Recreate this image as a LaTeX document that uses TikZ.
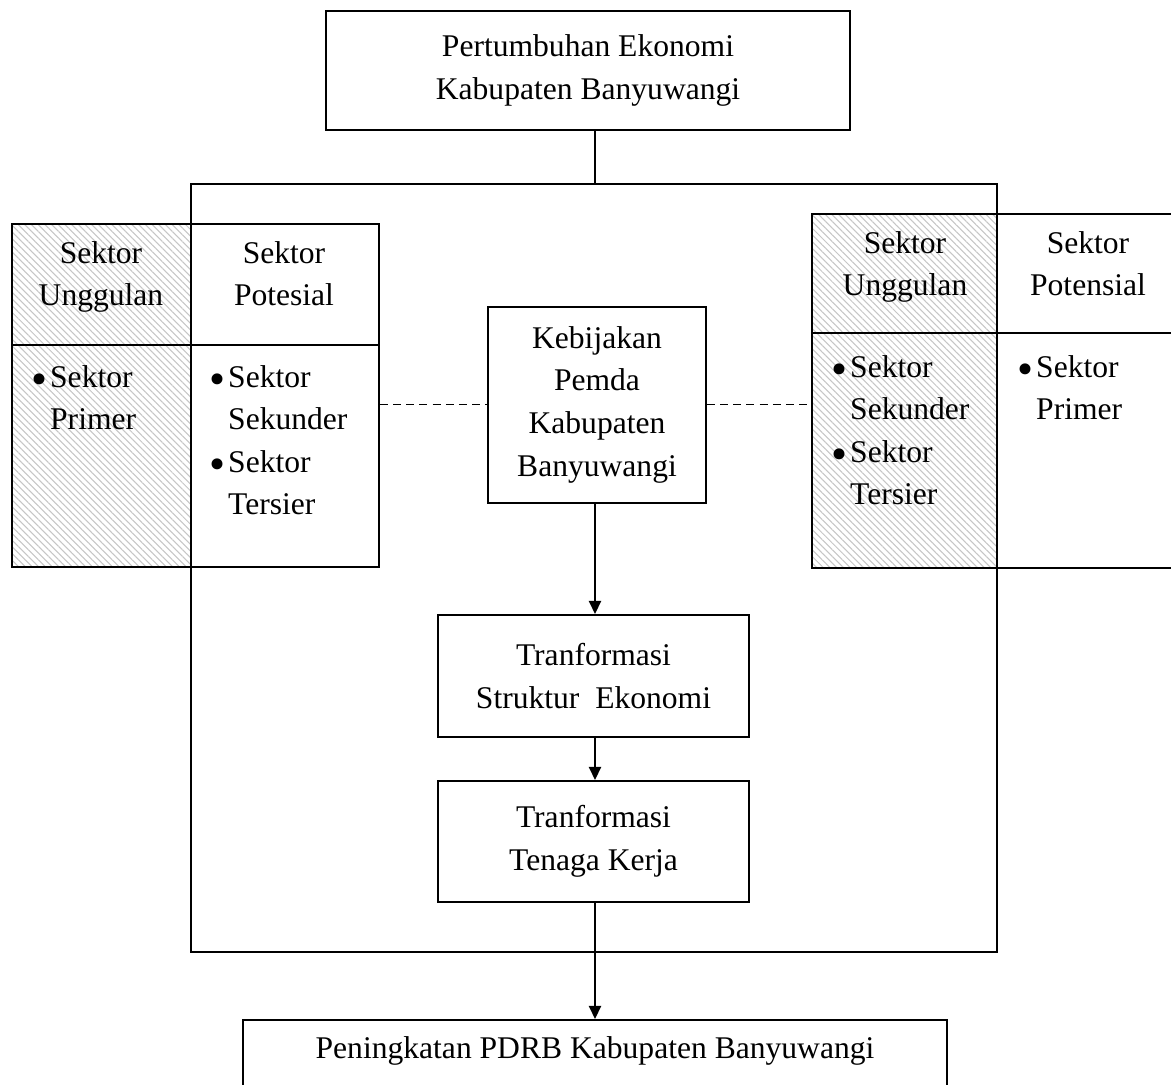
\documentclass[tikz,border=0pt]{standalone}
\usepackage{fontspec}
\setmainfont{Liberation Serif}
\usetikzlibrary{arrows.meta,patterns.meta}
\def\u{0.38pt}
\newcommand\mystk[1]{\begin{tabular}[t]{@{}c@{}}#1\end{tabular}}
\newcommand\myblt[1]{\begin{tabular}[t]{@{}l@{\hspace{1pt}}l@{}}#1\end{tabular}}
\newcommand\mybul{\raisebox{-2.7pt}{\scalebox{1.45}{\textbullet}}}
\begin{document}
\begin{tikzpicture}[x=0.38pt,y=-0.38pt,
  every node/.style={font=\fontsize{12}{16.2}\selectfont},
  box/.style={draw, line width=0.75pt, inner sep=0pt, align=center},
  arr/.style={line width=0.75pt, -{Triangle[length=5pt,width=4.6pt]}},
  ln/.style={line width=0.75pt},
  dsh/.style={line width=0.5pt, dash pattern=on 3pt off 2pt},
  hatch/.style={pattern={Lines[angle=135,distance=1.8pt,line width=0.4pt]}, pattern color=gray!45},
  txt/.style={inner sep=0pt, anchor=base},
  lst/.style={inner sep=0pt, anchor=base west}]
\useasboundingbox (0,0) rectangle (1171,1084);
\fill[white] (0,0) rectangle (1171,1084);
\coordinate (spine) at (595,0);

% hatched columns
\fill[hatch] (11,223) rectangle (190,566);
\fill[hatch] (811,213) rectangle (996,567);

% big frame
\node[box, minimum width=806*\u, minimum height=768*\u, anchor=north west] (F) at (190,183) {};

% left table
\node[box, minimum width=367*\u, minimum height=343*\u, anchor=north west] (LT) at (11,223) {};
\draw[ln] (11,345) -- (378,345);
\node[txt] (lh1) at (101,263) {\mystk{Sektor\\Unggulan}};
\node[txt] (lh2) at (284,263) {\mystk{Sektor\\Potesial}};
\node[lst] (lb1) at (31,387) {\myblt{\mybul & Sektor\\ & Primer}};
\node[lst] (lb2) at (209,387) {\myblt{\mybul & Sektor\\ & Sekunder\\ \mybul & Sektor\\ & Tersier}};

% right table
\node[box, minimum width=400*\u, minimum height=354*\u, anchor=north west] (RT) at (811,213) {};
\draw[ln] (811,333) -- (1211,333);
\node[txt] (rh1) at (905,253) {\mystk{Sektor\\Unggulan}};
\node[txt] (rh2) at (1088,253) {\mystk{Sektor\\Potensial}};
\node[lst] (rb1) at (831,377) {\myblt{\mybul & Sektor\\ & Sekunder\\ \mybul & Sektor\\ & Tersier}};
\node[lst] (rb2) at (1017,377) {\myblt{\mybul & Sektor\\ & Primer}};

% boxes
\node[box, minimum width=524*\u, minimum height=119*\u] (T) at (588,70.5) {Pertumbuhan Ekonomi\\Kabupaten Banyuwangi};
\node[box, minimum width=218*\u, minimum height=196*\u] (K) at (597,404.5) {Kebijakan\\Pemda\\Kabupaten\\Banyuwangi};
\node[box, minimum width=311*\u, minimum height=122*\u] (S) at (593.5,676) {Tranformasi\\Struktur\ \ Ekonomi};
\node[box, minimum width=311*\u, minimum height=121*\u] (W) at (593.5,841.5) {Tranformasi\\Tenaga Kerja};
\node[box, minimum width=704*\u, text height=38*\u, text depth=90*\u, anchor=north] (B) at (595,1019) {Peningkatan PDRB Kabupaten Banyuwangi};

% connectors
\draw[ln] (T.south -| spine) -- (F.north -| spine);
\draw[arr] (K.south -| spine) -- (S.north -| spine);
\draw[arr] (S.south -| spine) -- (W.north -| spine);
\draw[arr] (W.south -| spine) -- (B.north -| spine);
\draw[dsh] (LT.east |- K.west) -- (K.west);
\draw[dsh] (K.east) -- (RT.west |- K.east);
\end{tikzpicture}
\end{document}
